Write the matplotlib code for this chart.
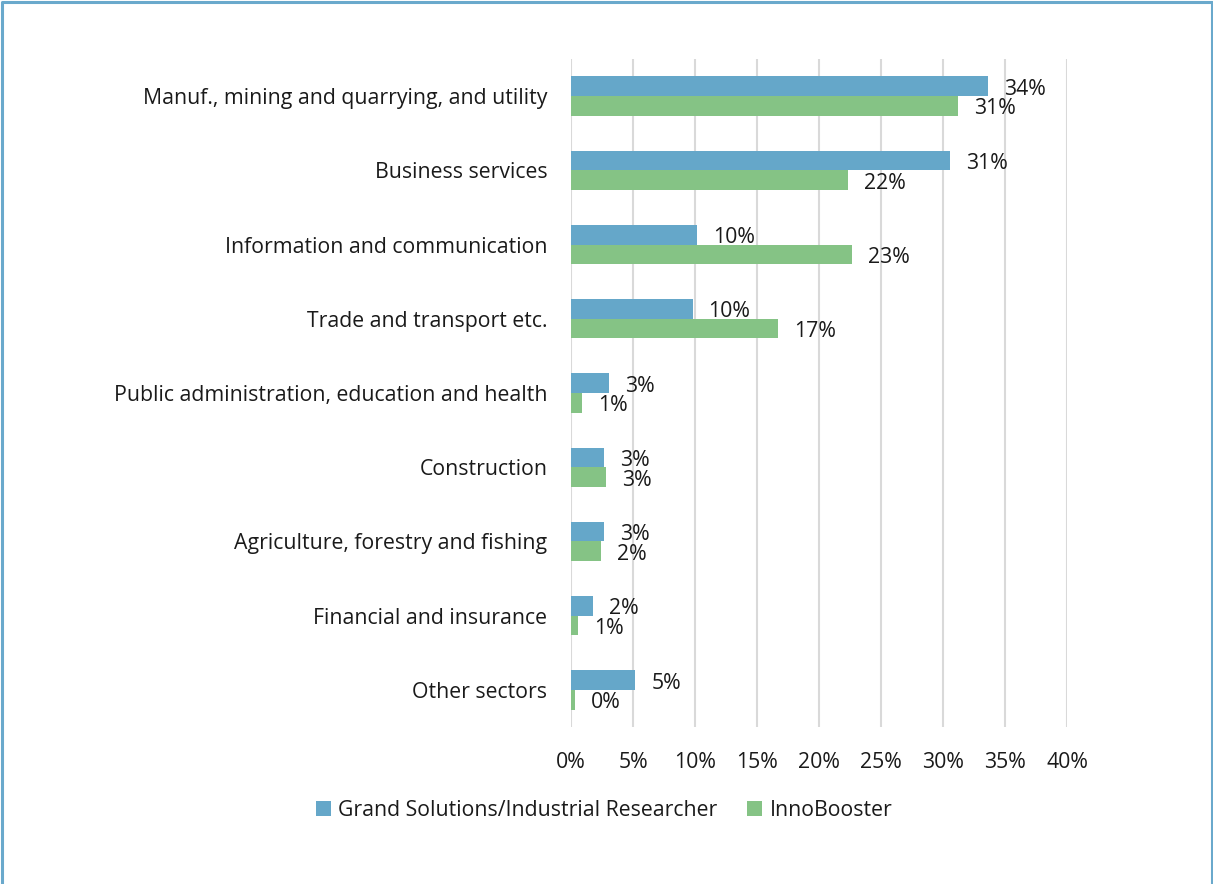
import matplotlib
matplotlib.use("Agg")
import matplotlib.pyplot as plt
from matplotlib.lines import Line2D
import numpy as np

plt.rcParams['font.family'] = ['Open Sans', 'DejaVu Sans']

categories = [
    "Manuf., mining and quarrying, and utility",
    "Business services",
    "Information and communication",
    "Trade and transport etc.",
    "Public administration, education and health",
    "Construction",
    "Agriculture, forestry and fishing",
    "Financial and insurance",
    "Other sectors",
]
grand_solutions = [33.6, 30.6, 10.2, 9.8, 3.1, 2.7, 2.7, 1.8, 5.2]
innobooster = [31.2, 22.3, 22.7, 16.7, 0.9, 2.8, 2.4, 0.6, 0.3]
series_names = ["Grand Solutions/Industrial Researcher", "InnoBooster"]
xticks = [0, 5, 10, 15, 20, 25, 30, 35, 40]

c_blue = "#65A7C9"
c_green = "#85C385"
txt = "#1a1a1a"
fs = 15.3

W, H = 1213, 884
fig = plt.figure(figsize=(W / 100, H / 100), dpi=100)
ax = fig.add_axes([571 / W, 1 - 727 / H, (1067 - 571) / W, (727 - 59) / H])

y = np.arange(len(categories))
h = 0.265
b1 = ax.barh(y - h / 2, grand_solutions, height=h, color=c_blue, label=series_names[0], zorder=3)
b2 = ax.barh(y + h / 2, innobooster, height=h, color=c_green, label=series_names[1], zorder=3)

for bars, vals in ((b1, grand_solutions), (b2, innobooster)):
    for rect, v in zip(bars, vals):
        ax.annotate(f"{v:.0f}%", xy=(rect.get_width(), rect.get_y() + rect.get_height() / 2),
                    xytext=(16, -3), textcoords="offset pixels",
                    ha="left", va="center", fontsize=fs, color=txt)

ax.set_xlim(0, 40)
ax.set_ylim(len(categories) - 0.5, -0.5)
ax.set_xticks(xticks)
ax.set_xticklabels([f"{t}%" for t in xticks], fontsize=fs, color=txt)
ax.set_yticks(y)
ax.set_yticklabels(categories, fontsize=fs, color=txt)
ax.tick_params(axis="both", length=0)
ax.tick_params(axis="x", pad=18)
ax.tick_params(axis="y", pad=17)
ax.xaxis.grid(True, color="#D9D9D9", linewidth=1.5, zorder=0)
ax.set_axisbelow(True)
for s in ax.spines.values():
    s.set_visible(False)

leg = fig.legend(handles=[b1, b2], labels=series_names, loc="center",
                 bbox_to_anchor=(604 / W, 1 - 810 / H), ncol=2, frameon=False,
                 fontsize=fs, handlelength=0.7, handleheight=0.7, handletextpad=0.35,
                 columnspacing=1.4)
for t in leg.get_texts():
    t.set_color(txt)

bc = "#6AA9CC"
x0, x1 = 1.5 / W, 1 - 1.5 / W
yt = 1 - 1.5 / H
fig.add_artist(Line2D([x0, x0, x1, x1], [0, yt, yt, 0], transform=fig.transFigure,
                      color=bc, linewidth=2.2))

fig.savefig("out.png", dpi=100)
